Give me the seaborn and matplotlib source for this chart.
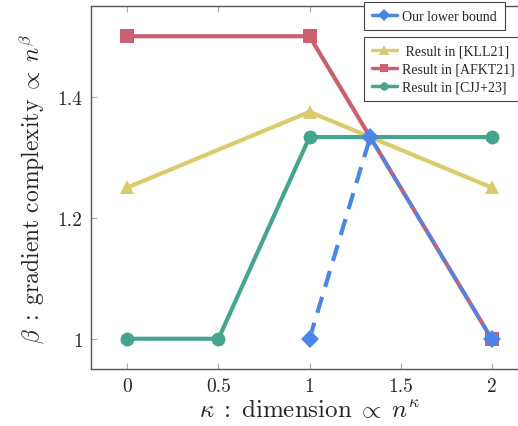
import matplotlib
matplotlib.use("Agg")
import matplotlib.pyplot as plt
import seaborn as sns
import numpy as np
from matplotlib.lines import Line2D

# data
kll_x = [0, 1, 2]
kll_y = [1.25, 1.375, 1.25]
afkt_x = [0, 1, 2]
afkt_y = [1.5, 1.5, 1.0]
cjj_x = [0, 0.5, 1, 2]
cjj_y = [1.0, 1.0, 4/3, 4/3]
ours_x = [1, 4/3, 2]
ours_y = [1.0, 4/3, 1.0]

labels = ["Our lower bound", " Result in [KLL21]", "Result in [AFKT21]", "Result in [CJJ+23]"]
xticks = [0, 0.5, 1, 1.5, 2]
xticklabels = ["0", "0.5", "1", "1.5", "2"]
yticks = [1.0, 1.2, 1.4]
yticklabels = ["1", "1.2", "1.4"]

sns.set_style("white")
plt.rcParams['font.family'] = ['cmr10']
plt.rcParams['mathtext.fontset'] = 'cm'
plt.rcParams['axes.formatter.use_mathtext'] = True

c_blue = "#4a86e8"
c_red = "#c9606e"
c_yel = "#dccb6c"
c_teal = "#45a58f"

fig = plt.figure(figsize=(5.18, 4.27), dpi=100)
ax = fig.add_axes([91/518, 57/427, 437/518, 363/427])

lw = 3.0
sns.lineplot(x=kll_x, y=kll_y, ax=ax, color=c_yel, lw=lw, marker="^", markersize=10, markeredgewidth=0)
sns.lineplot(x=afkt_x, y=afkt_y, ax=ax, color=c_red, lw=lw, marker="s", markersize=10, markeredgewidth=0)
sns.lineplot(x=cjj_x, y=cjj_y, ax=ax, color=c_teal, lw=lw, marker="o", markersize=10, markeredgewidth=0)
# our lower bound: dashed up to the peak, then along the red line
sns.lineplot(x=ours_x[:2], y=ours_y[:2], ax=ax, color=c_blue, lw=lw, dashes=(4, 2.5))
sns.lineplot(x=ours_x[1:], y=ours_y[1:], ax=ax, color=c_blue, lw=lw-0.6, dashes=(5, 1.5))
sns.lineplot(x=ours_x, y=ours_y, ax=ax, color=c_blue, lw=0, marker="D", markersize=9, markeredgewidth=0)

ax.set_xlim(-0.2, 2.2)
ax.set_ylim(0.95, 1.55)
ax.set_xticks(xticks)
ax.set_xticklabels(xticklabels)
ax.set_yticks(yticks)
ax.set_yticklabels(yticklabels)
ax.tick_params(direction="in", length=4, color="#aaaaaa", width=0.8, labelsize=14,
               top=True, right=True, bottom=True, left=True, pad=6)
for s in ax.spines.values():
    s.set_color("#555555")
    s.set_linewidth(1.0)
ax.set_xlabel(r"$\kappa\;:\;\mathrm{dimension}\;\propto\;n^{\kappa}$", fontsize=18, labelpad=2)
ax.set_ylabel(r"$\beta\;:\;\mathrm{gradient\ complexity}\;\propto\;n^{\beta}$", fontsize=17, labelpad=8)

h0 = Line2D([], [], color=c_blue, lw=2.5, marker="D", markersize=6, markeredgewidth=0)
h1 = Line2D([], [], color=c_yel, lw=2.5, marker="^", markersize=7, markeredgewidth=0)
h2 = Line2D([], [], color=c_red, lw=2.5, marker="s", markersize=6, markeredgewidth=0)
h3 = Line2D([], [], color=c_teal, lw=2.5, marker="o", markersize=6, markeredgewidth=0)

lkw = dict(prop={"family": "Liberation Serif", "size": 10}, fancybox=False, framealpha=1,
           edgecolor="#444444", handlelength=1.8, borderaxespad=0, borderpad=0.55,
           labelspacing=0.35, handletextpad=0.4)
leg1 = ax.legend([h0], labels[:1], loc="upper left",
                 bbox_to_anchor=(364/518, 1-3/427), bbox_transform=fig.transFigure, **lkw)
leg1.get_frame().set_linewidth(0.8)
ax.add_artist(leg1)
leg2 = ax.legend([h1, h2, h3], labels[1:], loc="upper left",
                 bbox_to_anchor=(364/518, 1-38/427), bbox_transform=fig.transFigure, **lkw)
leg2.get_frame().set_linewidth(0.8)

fig.savefig("out.png", dpi=100)
